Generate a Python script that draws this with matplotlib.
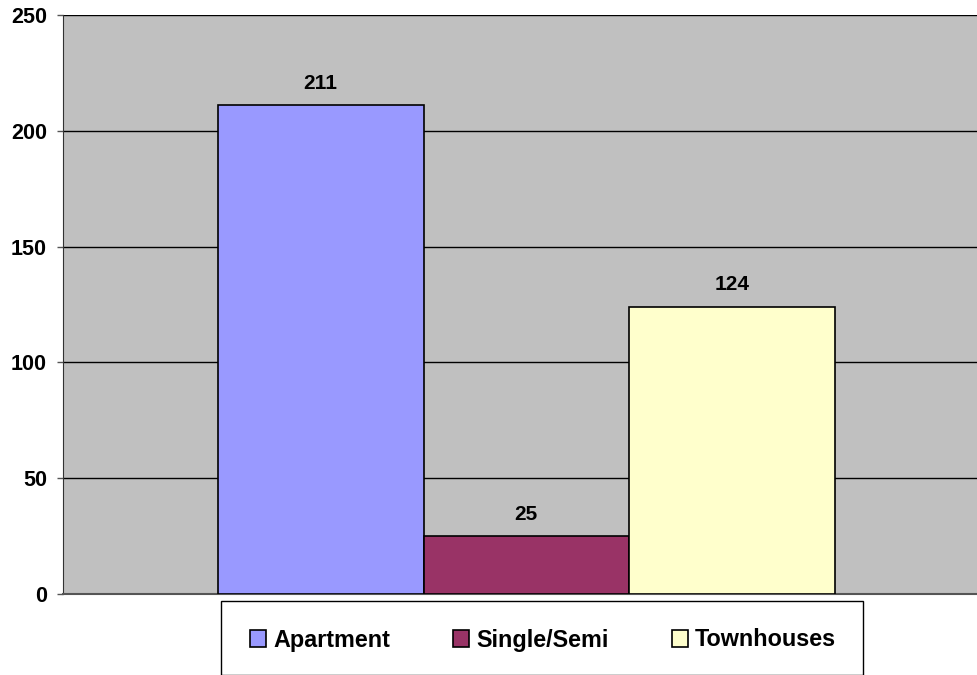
import matplotlib.pyplot as plt
from matplotlib.patches import Rectangle

categories = ["Apartment", "Single/Semi", "Townhouses"]
values = [211, 25, 124]
colors = ["#9999FF", "#993366", "#FFFFCC"]
yticks = [0, 50, 100, 150, 200, 250]

plt.rcParams['font.family'] = ['Liberation Sans', 'DejaVu Sans']

W, H = 978, 675
fig = plt.figure(figsize=(W / 100, H / 100), dpi=100)

# plot area in pixels: left 63, top 15, bottom 594, runs off the right edge
ax = fig.add_axes([63 / W, (H - 594) / H, (W - 63) / W, (594 - 15) / H])
ax.set_facecolor("#C0C0C0")

for i, (cat, val, col) in enumerate(zip(categories, values, colors)):
    ax.bar(i, val, width=1.0, color=col, edgecolor="black", linewidth=1.2,
           label=cat, zorder=3)
    ax.annotate(str(val), (i, val), xytext=(0, 9), textcoords="offset points",
                ha="center", va="bottom", fontsize=15, fontweight="bold")

px = 205.5  # pixels per bar
ax.set_xlim(-0.5 - (218 - 63) / px, -0.5 + (W - 218) / px)
ax.set_ylim(0, 250)
ax.set_yticks(yticks)
ax.set_yticklabels([str(t) for t in yticks], fontsize=15.5, fontweight="bold")
ax.set_xticks([])
ax.yaxis.grid(True, color="black", linewidth=1.0, zorder=0)
ax.tick_params(axis="y", length=4.5, width=1, color="#555555", pad=7)

for s in ["top", "right"]:
    ax.spines[s].set_visible(False)
ax.spines["left"].set_color("#333333")
ax.spines["bottom"].set_color("#555555")
ax.spines["bottom"].set_linewidth(1.5)

# legend box
fig.patches.append(Rectangle((221 / W, 0), (863 - 221) / W, (H - 601) / H,
                             transform=fig.transFigure, facecolor="white",
                             edgecolor="black", linewidth=1.0))
leg = fig.legend(loc="center", bbox_to_anchor=(543 / W, (H - 640) / H),
                 ncol=3, frameon=False, prop={"size": 16.8, "weight": "bold"},
                 handlelength=0.7, handleheight=0.7, handletextpad=0.3,
                 columnspacing=2.7)

fig.savefig("out.png", dpi=100)
